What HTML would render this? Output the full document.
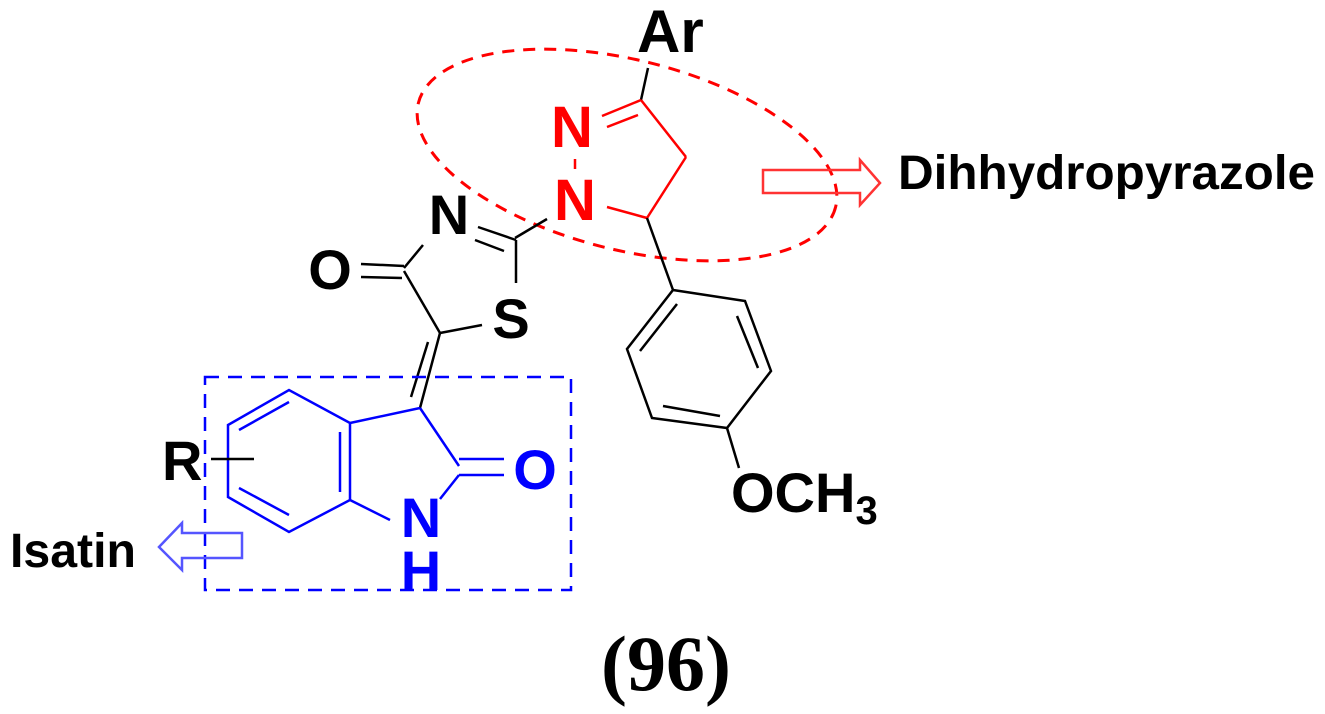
<!DOCTYPE html>
<html><head><meta charset="utf-8"><style>html,body{margin:0;padding:0;background:#fff}svg{display:block}</style></head>
<body>
<svg width="1325" height="714" viewBox="0 0 1325 714" xmlns="http://www.w3.org/2000/svg" font-family="Liberation Sans, Arial, sans-serif" font-weight="bold">
<!-- red ellipse -->
<ellipse cx="627" cy="155" rx="215" ry="95" transform="rotate(14 627 155)" fill="none" stroke="#f00" stroke-width="3" stroke-dasharray="12,9"/>
<!-- red arrow -->
<path d="M763,170 L860,170 L860,160 L880,183 L860,205 L860,193 L763,193 Z" fill="none" stroke="#f33" stroke-width="2.5"/>
<text x="898" y="189" font-size="48" textLength="417" lengthAdjust="spacingAndGlyphs" fill="#000">Dihhydropyrazole</text>
<!-- Ar -->
<text x="637" y="52" font-size="60" fill="#000">Ar</text>
<line x1="648" y1="68" x2="641" y2="100" stroke="#000" stroke-width="2.5"/>
<!-- pyrazoline (red) -->
<g stroke="#f00" stroke-width="2.5" fill="none">
<line x1="641" y1="100" x2="686" y2="157"/>
<line x1="686" y1="157" x2="647" y2="218"/>
<line x1="647" y1="218" x2="607" y2="207"/>
<line x1="641" y1="100" x2="602" y2="116"/>
<line x1="638" y1="115" x2="607" y2="127"/>
<line x1="575" y1="159" x2="575" y2="169"/>
</g>
<text x="572" y="147" font-size="58" fill="#f00" text-anchor="middle">N</text>
<text x="575" y="220" font-size="58" fill="#f00" text-anchor="middle">N</text>
<!-- thiazolone (black) -->
<g stroke="#000" stroke-width="2.5" fill="none">
<line x1="515" y1="238" x2="547" y2="219"/>
<line x1="478" y1="227" x2="516" y2="240"/>
<line x1="475" y1="240" x2="504" y2="251"/>
<line x1="516" y1="240" x2="516" y2="283"/>
<line x1="404" y1="268" x2="423" y2="245"/>
<line x1="404" y1="266" x2="361" y2="264"/>
<line x1="402" y1="278" x2="361" y2="277"/>
<line x1="404" y1="271" x2="440" y2="333"/>
<line x1="440" y1="333" x2="482" y2="325"/>
<line x1="440" y1="333" x2="420" y2="408"/>
<line x1="428" y1="342" x2="411" y2="397"/>
</g>
<text x="449" y="234" font-size="56" fill="#000" text-anchor="middle">N</text>
<text x="330" y="289" font-size="56" fill="#000" text-anchor="middle">O</text>
<text x="511" y="338" font-size="56" fill="#000" text-anchor="middle">S</text>
<!-- methoxyphenyl -->
<g stroke="#000" stroke-width="2.5" fill="none">
<line x1="647" y1="218" x2="673" y2="290"/>
<polygon points="673,290 745,301 771,371 727,428 652,418 627,349"/>
<line x1="677" y1="304" x2="640" y2="351"/>
<line x1="737" y1="316" x2="758" y2="368"/>
<line x1="663" y1="406" x2="720" y2="416"/>
<line x1="727" y1="428" x2="739" y2="468"/>
</g>
<text x="731" y="512" font-size="56" fill="#000">OCH<tspan font-size="40" dy="12">3</tspan></text>
<!-- isatin (blue) -->
<rect x="205" y="377" width="366" height="213" fill="none" stroke="#00f" stroke-width="2.5" stroke-dasharray="14,9"/>
<g stroke="#00f" stroke-width="2.5" fill="none">
<polygon points="350,423 350,500 289,532 228,497 228,425 289,390"/>
<line x1="239" y1="430" x2="289" y2="402"/>
<line x1="239" y1="488" x2="289" y2="515"/>
<line x1="340" y1="432" x2="340" y2="492"/>
<line x1="350" y1="423" x2="420" y2="408"/>
<line x1="420" y1="408" x2="459" y2="466"/>
<line x1="459" y1="459" x2="504" y2="459"/>
<line x1="459" y1="475" x2="504" y2="475"/>
<line x1="459" y1="475" x2="440" y2="499"/>
<line x1="350" y1="500" x2="390" y2="520"/>
</g>
<text x="535" y="489" font-size="56" fill="#00f" text-anchor="middle">O</text>
<text x="421" y="537" font-size="56" fill="#00f" text-anchor="middle">N</text>
<text x="421" y="590" font-size="56" fill="#00f" text-anchor="middle">H</text>
<text x="162" y="480" font-size="56" fill="#000">R</text>
<line x1="211" y1="459" x2="254" y2="459" stroke="#000" stroke-width="2.5"/>
<path d="M242,533 L182,533 L182,523 L159,547 L182,570 L182,558 L242,558 Z" fill="none" stroke="#55f" stroke-width="2.5"/>
<text x="10" y="567" font-size="48" fill="#000" textLength="126" lengthAdjust="spacingAndGlyphs">Isatin</text>
<text x="666" y="690" font-size="78" fill="#000" text-anchor="middle" font-family="Liberation Serif, serif">(96)</text>
</svg>
</body></html>
